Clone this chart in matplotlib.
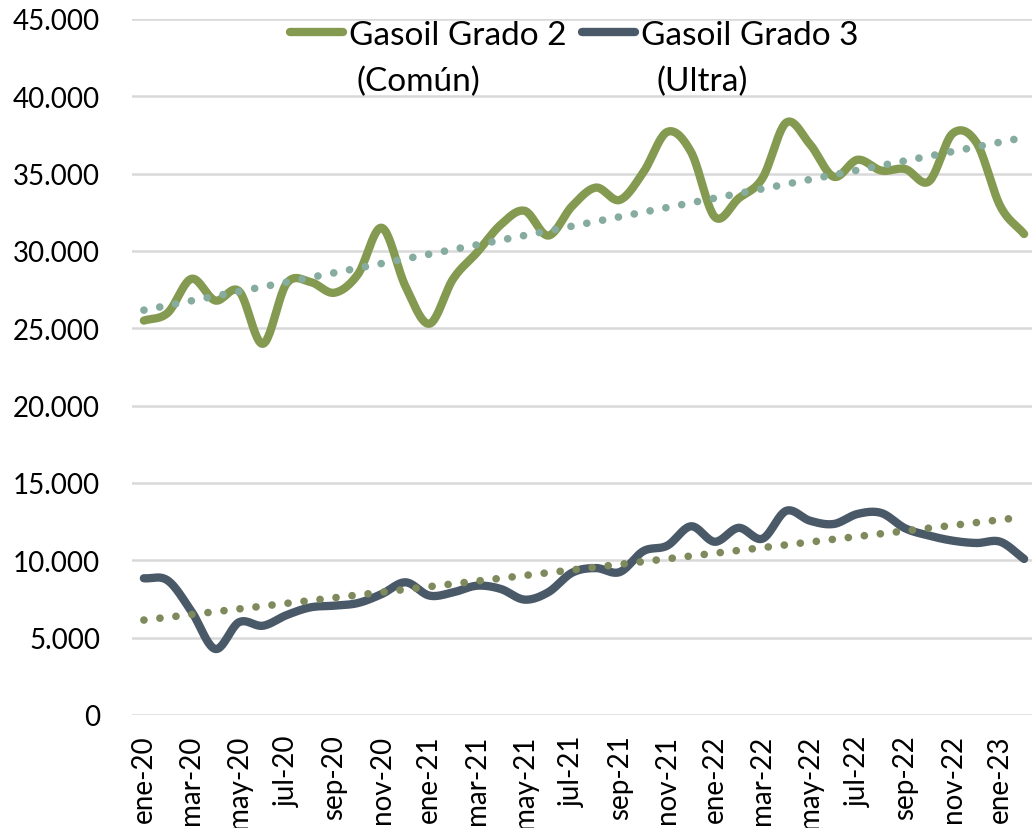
#!/usr/bin/env python3
"""Precio gasoil grado 2 y grado 3, ene-20 a feb-23, con lineas de tendencia."""
import numpy as np
import matplotlib
matplotlib.use("Agg")
import matplotlib.pyplot as plt
from matplotlib.lines import Line2D
from matplotlib.ticker import FuncFormatter, FixedLocator

# Datos mensuales (ene-20 .. feb-23)
meses = ["ene", "feb", "mar", "abr", "may", "jun", "jul", "ago", "sep", "oct", "nov", "dic"]
etiquetas = [f"{m}-{a}" for a in ("20", "21", "22") for m in meses] + ["ene-23", "feb-23"]

grado2 = [25500, 26000, 28200, 26800, 27400, 24000, 27900, 28000, 27300, 28500,
          31500, 27700, 25300, 28200, 29900, 31700, 32600, 31000, 32900, 34100,
          33300, 35100, 37700, 36400, 32200, 33400, 34700, 38300, 36900, 34800,
          35900, 35200, 35300, 34500, 37600, 37000, 32900, 31100]

grado3 = [8840, 8700, 6700, 4270, 6000, 5770, 6460, 6960, 7070, 7240,
          7820, 8580, 7720, 7930, 8360, 8150, 7460, 7940, 9200, 9500,
          9240, 10600, 10950, 12200, 11200, 12100, 11400, 13200, 12560, 12350,
          13000, 13060, 12070, 11600, 11270, 11120, 11200, 10090]

serie_labels = ["Gasoil Grado 2", "Gasoil Grado 3"]
serie_sub = ["(Común)", "(Ultra)"]

COL_G2 = "#849A51"
COL_G3 = "#4A5968"
COL_T2 = "#86AC9F"
COL_T3 = "#7E8A5B"
FONT = "Lato"


def suavizar(x, y, n=24):
    """Curva tipo Catmull-Rom entre los puntos (como la linea suavizada de Excel)."""
    x = np.asarray(x, float)
    y = np.asarray(y, float)
    px = np.concatenate([[2 * x[0] - x[1]], x, [2 * x[-1] - x[-2]]])
    py = np.concatenate([[2 * y[0] - y[1]], y, [2 * y[-1] - y[-2]]])
    xs, ys = [], []
    t = np.linspace(0, 1, n, endpoint=False)
    for i in range(1, len(px) - 2):
        for arr, out in ((px, xs), (py, ys)):
            p0, p1, p2, p3 = arr[i - 1], arr[i], arr[i + 1], arr[i + 2]
            out.extend(0.5 * ((2 * p1) + (-p0 + p2) * t
                              + (2 * p0 - 5 * p1 + 4 * p2 - p3) * t ** 2
                              + (-p0 + 3 * p1 - 3 * p2 + p3) * t ** 3))
    xs.append(x[-1])
    ys.append(y[-1])
    return np.array(xs), np.array(ys)


fig = plt.figure(figsize=(10.32, 8.29), dpi=100)
ax = fig.add_axes([132 / 1032, 113 / 829, 904 / 1032, 696 / 829])

x = np.arange(len(etiquetas))

for y, col, tcol in ((grado2, COL_G2, COL_T2), (grado3, COL_G3, COL_T3)):
    # tendencia lineal
    a, b = np.polyfit(x, y, 1)
    ax.plot(x, a * x + b, color=tcol, lw=5.5, linestyle=(0, (0.01, 2.1)),
            dash_capstyle="round", zorder=3)
    sx, sy = suavizar(x, y)
    ax.plot(sx, sy, color=col, lw=6, solid_capstyle="round",
            solid_joinstyle="round", zorder=2)

ax.set_xlim(-0.5, len(etiquetas) - 0.5)
ax.set_ylim(0, 45000)
ax.yaxis.set_major_locator(FixedLocator(np.arange(0, 45001, 5000)))
ax.yaxis.set_major_formatter(FuncFormatter(lambda v, p: f"{v:,.0f}".replace(",", ".")))
ax.grid(axis="y", color="#D9D9D9", lw=1.8, zorder=0)
ax.set_axisbelow(True)
for s in ax.spines.values():
    s.set_visible(False)

ax.set_xticks(x[::2])
ax.set_xticklabels(etiquetas[::2], rotation=90, fontsize=20, family=FONT)
ax.tick_params(axis="both", length=0)
ax.tick_params(axis="x", pad=14)
ax.tick_params(axis="y", pad=23)
for lbl in ax.get_yticklabels():
    lbl.set_fontsize(20)
    lbl.set_family(FONT)

handles = [Line2D([], [], color=COL_G2, lw=6, solid_capstyle="round"),
           Line2D([], [], color=COL_G3, lw=6, solid_capstyle="round")]
ax.legend(handles, serie_labels, ncol=2, frameon=False, loc="center left",
          bbox_to_anchor=(290 / 1032, 1 - 36 / 829), bbox_transform=fig.transFigure,
          prop={"family": FONT, "size": 24}, handlelength=1.6, handletextpad=0.18,
          columnspacing=0.45, borderaxespad=0, borderpad=0)
fig.text(357 / 1032, 1 - 82 / 829, serie_sub[0], fontsize=24, family=FONT, va="center")
fig.text(657 / 1032, 1 - 82 / 829, serie_sub[1], fontsize=24, family=FONT, va="center")

fig.savefig("out.png", dpi=100, facecolor="white")
